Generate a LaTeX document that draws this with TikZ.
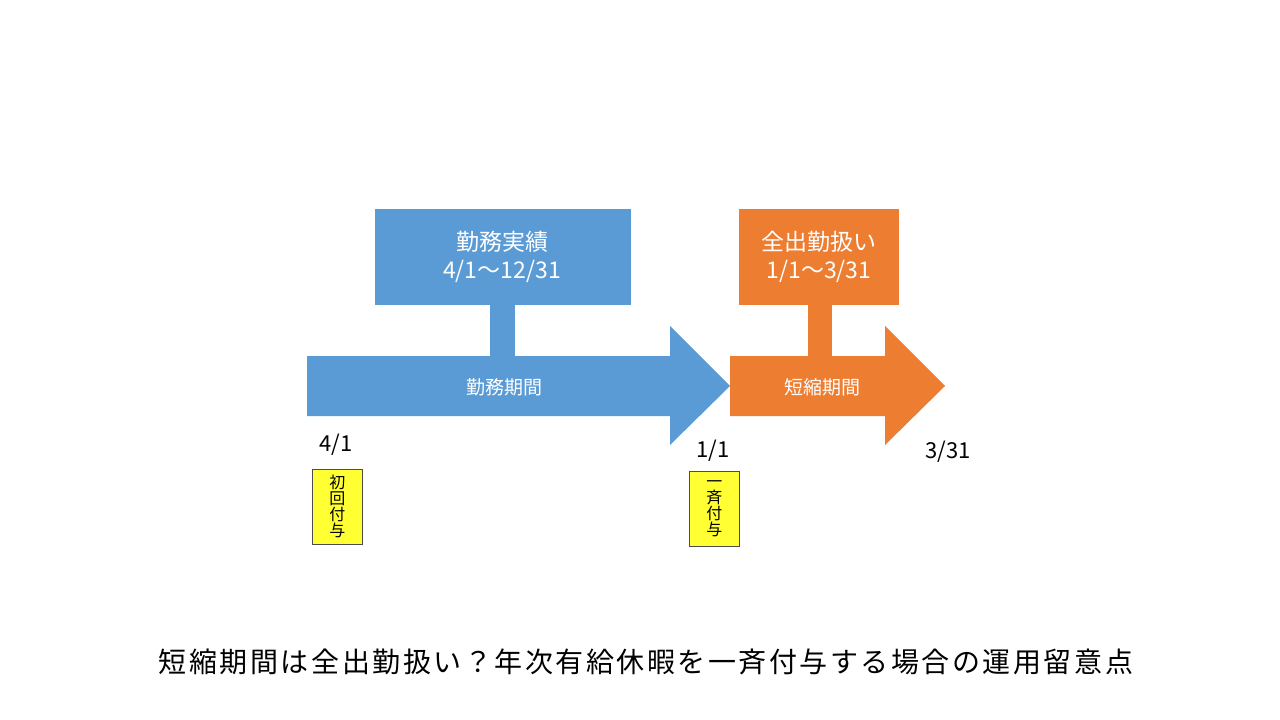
\documentclass[tikz,border=0pt]{standalone}
\usepackage{fontspec}
\setmainfont{Noto Sans CJK JP}
\newfontfamily\titlefont[LetterSpace=9]{Noto Sans CJK JP}
\definecolor{blueA}{HTML}{5B9BD5}
\definecolor{orangeA}{HTML}{ED7D31}
\definecolor{tagY}{HTML}{FFFF33}
\begin{document}
\begin{tikzpicture}[x=1pt,y=-1pt,
  boxtxt/.style={text=white,align=center,font=\fontsize{23}{28}\selectfont},
  bartxt/.style={text=white,font=\fontsize{19}{22}\selectfont},
  datelbl/.style={text=black,font=\fontsize{22}{24}\selectfont},
  tag/.style={fill=tagY,draw=black!70,line width=0.7pt,minimum width=50pt,minimum height=75pt,inner sep=0pt,align=center,font=\fontsize{16}{16}\selectfont,anchor=north west}]
\useasboundingbox (0,0) rectangle (1280,720);
\fill[white] (0,0) rectangle (1280,720);
% blue arrow with stem and box
\fill[blueA] (307,356) -- (670,356) -- (670,326) -- (730,386) -- (670,445) -- (670,416) -- (307,416) -- cycle;
\fill[blueA] (490,300) rectangle (515,357);
\node[fill=blueA,minimum width=256pt,minimum height=96pt,inner sep=0pt,anchor=north west] (bbox) at (375,209) {};
\node[boxtxt] (btxt) at (502,257) {勤務実績\\4/1〜12/31};
\node[bartxt] (bbar) at (504,387) {勤務期間};
% orange arrow
\fill[orangeA] (730,356) -- (885,356) -- (885,326) -- (945,386) -- (885,445) -- (885,416) -- (730,416) -- cycle;
\fill[orangeA] (808,300) rectangle (832,357);
\node[fill=orangeA,minimum width=160pt,minimum height=96pt,inner sep=0pt,anchor=north west] (obox) at (739,209) {};
\node[boxtxt] (otxt) at (819,257) {全出勤扱い\\1/1〜3/31};
\node[bartxt] (obar) at (822,387) {短縮期間};
% date labels
\node[datelbl] (d1) at (336,445) {4/1};
\node[datelbl] (d2) at (713,451) {1/1};
\node[datelbl] (d3) at (948,452) {3/31};
% tags
\node[tag] (t1) at (312,469) {初\\回\\付\\与};
\node[tag] (t2) at (689,471) {一\\斉\\付\\与};
% title
\node[text=black,font=\titlefont\fontsize{28}{30}\selectfont] (title) at (646,662) {短縮期間は全出勤扱い？年次有給休暇を一斉付与する場合の運用留意点};
\end{tikzpicture}
\end{document}
